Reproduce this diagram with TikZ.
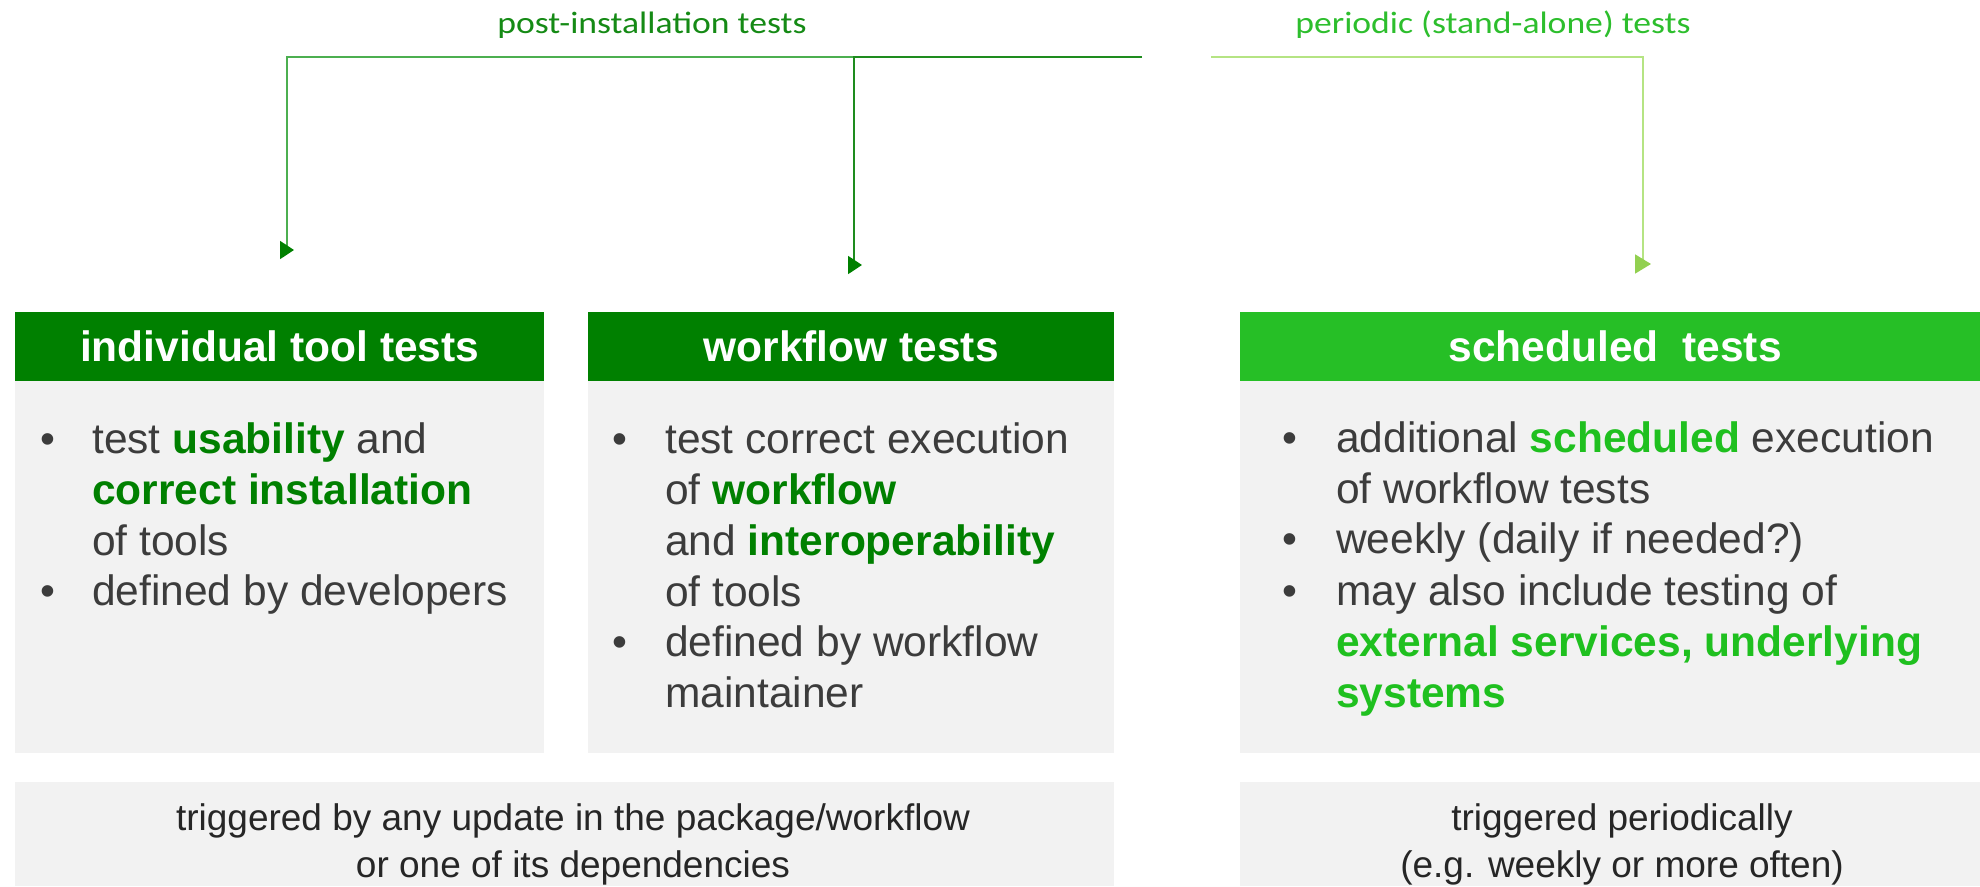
\documentclass[tikz,border=0pt]{standalone}
\usepackage{fontspec}
\setmainfont{Liberation Sans}
\newfontfamily\calib{Carlito}
\usetikzlibrary{arrows.meta}
\definecolor{dkgreen}{HTML}{008000}
\definecolor{ltgreen}{HTML}{26BF26}
\definecolor{ltbold}{HTML}{1FC01F}
\definecolor{bodybg}{HTML}{F2F2F2}
\definecolor{txtgrey}{HTML}{3C3C3C}
\definecolor{postline}{HTML}{4CAF50}
\definecolor{postdark}{HTML}{1E8C1E}
\definecolor{postlabel}{HTML}{158A15}
\definecolor{perline}{HTML}{B5E483}
\definecolor{perarrow}{HTML}{92D050}
\definecolor{perlabel}{HTML}{2DBE2D}
\newcommand\gb[1]{{\bfseries\color{dkgreen}#1}}
\newcommand\lb[1]{{\bfseries\color{ltbold}#1}}
\newcommand\hdrtext[1]{\raisebox{-3pt}{#1}}
\begin{document}
\begin{tikzpicture}[x=1pt,y=-1pt,
  hdr/.style={anchor=north west, minimum height=69pt, inner sep=0pt, text=white,
    font=\fontsize{42.5}{51}\selectfont\bfseries},
  bodybox/.style={anchor=north west, fill=bodybg, inner sep=0pt, minimum height=372pt},
  footbox/.style={anchor=north west, fill=bodybg, inner sep=0pt, minimum height=104pt},
  itemtxt/.style={anchor=north west, inner sep=0pt, align=left, text=txtgrey,
    font=\fontsize{42.5}{51}\selectfont},
  foottxt/.style={anchor=north, inner sep=0pt, align=center, text=black!85,
    font=\fontsize{37}{47.5}\selectfont},
  toplabel/.style={anchor=base, inner sep=0pt, font=\calib\fontsize{31}{37}\selectfont},
  conn/.style={line width=1.8pt},
  darktip/.style={-{Triangle[length=14pt,width=18pt,fill=dkgreen,color=dkgreen]}},
  lighttip/.style={-{Triangle[length=16pt,width=19pt,fill=perarrow,color=perarrow]}}
]
\useasboundingbox (0,0) rectangle (1980,886);

% labels
\node[toplabel, text=postlabel] (lpost) at (652,33) {\scalebox{1.15}[1]{post-installation tests}};
\node[toplabel, text=perlabel] (lper) at (1493,33) {\scalebox{1.15}[1]{periodic (stand-alone) tests}};

% header boxes
\node[hdr, fill=dkgreen, minimum width=529pt] (h1) at (15,312) {\hdrtext{individual tool tests}};
\node[hdr, fill=dkgreen, minimum width=526pt] (h2) at (588,312) {\hdrtext{workflow tests}};
\node[hdr, fill=ltgreen, minimum width=750pt] (h3) at (1240,312) {\hdrtext{scheduled\ \ tests}};

% body boxes
\node[bodybox, minimum width=529pt] (b1) at (15,381) {};
\node[bodybox, minimum width=526pt] (b2) at (588,381) {};
\node[bodybox, minimum width=750pt] (b3) at (1240,381) {};

% footer boxes
\node[footbox, minimum width=1099pt] (f1) at (15,782) {};
\node[footbox, minimum width=750pt] (f2) at (1240,782) {};

% box 1 items
\node[itemtxt] (d11) at (40,417.3) {\strut•};
\node[itemtxt] (t11) at (92,417.3) {\strut test \gb{usability} and\\\gb{correct installation}\\of tools};
\node[itemtxt] (d12) at (40,569.3) {\strut•};
\node[itemtxt] (t12) at (92,569.3) {\strut defined by developers};

% box 2 items
\node[itemtxt] (d21) at (612,417.3) {\strut•};
\node[itemtxt] (t21) at (665,417.3) {\strut test correct execution\\of \gb{workflow}\\and \gb{interoperability}\\of tools};
\node[itemtxt] (d22) at (612,620.3) {\strut•};
\node[itemtxt] (t22) at (665,620.3) {\strut defined by workflow\\maintainer};

% box 3 items
\node[itemtxt] (d31) at (1282,416.3) {\strut•};
\node[itemtxt] (t31) at (1336,416.3) {\strut additional \lb{scheduled} execution\\of workflow tests};
\node[itemtxt] (d32) at (1282,517.3) {\strut•};
\node[itemtxt] (t32) at (1336,517.3) {\strut weekly (daily if needed?)};
\node[itemtxt] (d33) at (1282,569.3) {\strut•};
\node[itemtxt] (t33) at (1336,569.3) {\strut may also include testing of\\\lb{external services, underlying}\\\lb{systems}};

% footer texts
\node[foottxt] (ft1) at (573,796.7) {\strut triggered by any update in the package/workflow\\or one of its dependencies};
\node[foottxt] (ft2) at (1622,796.7) {\strut triggered periodically\\(e.g. weekly or more often)};

% connectors
\coordinate (s1) at (1142,57);
\coordinate (j1) at (854,57);
\coordinate (c1) at (287,57);
\coordinate (e1) at (287,250);
\coordinate (t1) at (294,250);
\coordinate (e2) at (854,265);
\coordinate (t2) at (862,265);
\coordinate (s3) at (1211,57);
\coordinate (c3) at (1643,57);
\coordinate (e3) at (1643,264);
\coordinate (t3) at (1651,264);

\draw[conn, postline, darktip] (j1) -- (c1) -- (e1) -- (t1);
\draw[conn, postdark, darktip] (s1) -- (j1) -- (e2) -- (t2);
\draw[conn, perline, lighttip] (s3) -- (c3) -- (e3) -- (t3);
\end{tikzpicture}
\end{document}
